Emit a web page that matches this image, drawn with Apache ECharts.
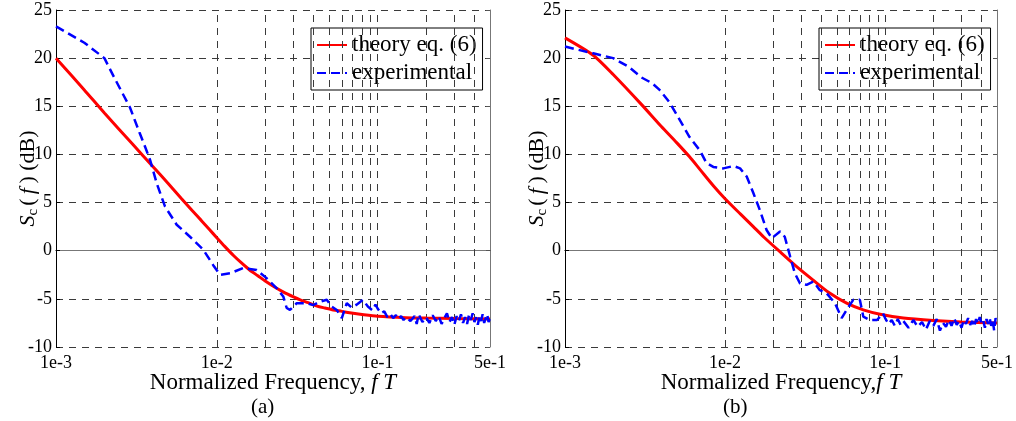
<!DOCTYPE html>
<html><head><meta charset="utf-8">
<script src="https://cdn.jsdelivr.net/npm/echarts@6/dist/echarts.min.js"></script>
<style>html,body{margin:0;padding:0;background:#fff}#c{width:1016px;height:421px}</style>
</head><body><div id="c"></div>
<script>
// ---- data (frequency fT, dB) ----
const theoryA = [[0.001,20.0],[0.0015,16.7],[0.002,14.3],[0.003,11.05],[0.004,8.75],[0.005,6.95],[0.006,5.45],[0.007,4.2],[0.008,3.15],[0.009,2.2],[0.01,1.35],[0.0112,0.45],[0.0127,-0.5],[0.0143,-1.3],[0.016,-2.0],[0.018,-2.6],[0.02,-3.15],[0.023,-3.8],[0.026,-4.3],[0.03,-4.8],[0.033,-5.1],[0.037,-5.4],[0.042,-5.75],[0.047,-5.95],[0.053,-6.15],[0.06,-6.3],[0.067,-6.45],[0.08,-6.62],[0.1,-6.8],[0.15,-6.95],[0.2,-7.0],[0.3,-7.05],[0.5,-7.1]];
const expA = [[0.001,23.3],[0.0015,21.6],[0.002,20.0],[0.0023,18.0],[0.0026,16.3],[0.00288,14.9],[0.0033,12.3],[0.0036,10.7],[0.00385,9.4],[0.00423,7.0],[0.00476,4.6],[0.00563,2.7],[0.00681,1.45],[0.00824,0.1],[0.0095,-1.5],[0.01047,-2.5],[0.01208,-2.35],[0.01462,-1.8],[0.0177,-2.0],[0.0204,-2.85],[0.0236,-3.9],[0.0259,-4.75],[0.0272,-5.95],[0.0285,-6.15],[0.0314,-5.45],[0.0362,-5.45],[0.0398,-5.65],[0.0438,-5.3],[0.0483,-5.1],[0.0519,-5.8],[0.0557,-6.15],[0.0599,-7.0],[0.0643,-5.45],[0.069,-5.9],[0.074,-5.6],[0.081,-5.1],[0.087,-5.8],[0.093,-6.2],[0.097,-5.6],[0.1,-6.0],[0.105,-6.5],[0.11,-6.3],[0.115,-6.9],[0.12,-6.6],[0.125,-7.0],[0.13,-6.7],[0.135,-7.1],[0.14,-6.8],[0.145,-7.2],[0.15,-6.9],[0.16,-7.3],[0.17,-6.8],[0.175,-7.6],[0.18,-6.6],[0.19,-7.4],[0.2,-6.9],[0.21,-7.5],[0.22,-6.7],[0.23,-7.3],[0.24,-6.8],[0.25,-7.6],[0.26,-7.0],[0.27,-6.5],[0.28,-7.4],[0.29,-6.9],[0.3,-7.7],[0.31,-6.8],[0.32,-7.3],[0.33,-6.6],[0.34,-7.5],[0.35,-6.9],[0.36,-7.6],[0.37,-6.7],[0.38,-7.2],[0.39,-6.5],[0.4,-7.4],[0.41,-6.9],[0.42,-7.7],[0.43,-6.8],[0.44,-7.3],[0.45,-6.6],[0.46,-7.5],[0.47,-7.0],[0.48,-6.6],[0.49,-7.4],[0.5,-7.0]];
const theoryB = [[0.001,22.1],[0.0015,20.3],[0.002,18.3],[0.003,15.2],[0.004,12.9],[0.005,11.2],[0.006,9.75],[0.007,8.4],[0.0085,6.7],[0.01,5.4],[0.0125,3.8],[0.015,2.5],[0.0175,1.4],[0.022,-0.1],[0.028,-1.65],[0.0355,-3.05],[0.045,-4.4],[0.0575,-5.45],[0.073,-6.15],[0.093,-6.6],[0.13,-7.0],[0.2,-7.25],[0.3,-7.4],[0.5,-7.5]];
const expB = [[0.001,21.2],[0.0015,20.5],[0.002,20.0],[0.0025,19.1],[0.003,18.0],[0.0035,17.4],[0.0039,16.7],[0.0045,15.4],[0.005,14.1],[0.0055,12.9],[0.006,11.8],[0.00697,10.4],[0.00766,9.1],[0.00844,8.7],[0.00976,8.55],[0.0113,8.8],[0.01241,8.55],[0.01365,7.7],[0.01502,6.0],[0.01651,4.2],[0.01817,2.15],[0.0196,1.3],[0.02204,2.0],[0.0236,1.45],[0.0255,-0.6],[0.0273,-2.35],[0.0294,-3.4],[0.0323,-3.55],[0.0356,-3.2],[0.0391,-4.1],[0.043,-4.4],[0.0486,-5.45],[0.0535,-7.0],[0.0575,-6.15],[0.0632,-5.1],[0.0695,-5.1],[0.0731,-6.85],[0.0805,-7.2],[0.089,-7.2],[0.097,-6.5],[0.1,-7.0],[0.105,-7.6],[0.11,-7.2],[0.115,-7.8],[0.12,-7.1],[0.125,-7.7],[0.13,-7.3],[0.14,-8.0],[0.15,-7.2],[0.16,-7.9],[0.17,-7.4],[0.18,-8.2],[0.19,-7.3],[0.2,-7.8],[0.21,-7.1],[0.22,-8.3],[0.23,-7.5],[0.24,-7.9],[0.25,-7.2],[0.26,-7.8],[0.27,-7.0],[0.28,-7.7],[0.29,-7.3],[0.3,-8.0],[0.31,-7.2],[0.32,-7.6],[0.33,-7.0],[0.34,-7.7],[0.35,-7.3],[0.36,-7.9],[0.37,-7.1],[0.38,-7.6],[0.39,-6.9],[0.4,-7.5],[0.41,-7.2],[0.42,-8.0],[0.43,-7.1],[0.44,-7.6],[0.45,-7.0],[0.46,-7.8],[0.47,-7.2],[0.48,-8.3],[0.49,-7.0],[0.5,-7.6]];
const gridX = [0.002,0.003,0.004,0.005,0.006,0.007,0.008,0.009,0.01,0.02,0.03,0.04,0.05,0.06,0.07,0.08,0.09,0.1,0.2,0.3,0.4];
const seriesNames = ['theory eq. (6)', 'experimental'];
const xTitleA = 'Normalized Frequency, ';
const xTitleB = 'Normalized Frequency,';
const captions = ['(a)', '(b)'];

const FONT = '"Liberation Serif", "Times New Roman", serif';
const gridDash = {type:[7,6], color:'#3a3a3a', width:1};
const grids = [{left:56, top:10, width:434, height:337},{left:565, top:10, width:432, height:337}];

function xAxes(gi, title){
  return [{
    type:'log', logBase:10, min:0.001, max:0.5, gridIndex:gi, position:'bottom',
    axisLine:{show:true, lineStyle:{color:'#000', width:1}},
    axisTick:{show:false}, splitLine:{show:false},
    axisLabel:{fontFamily:FONT, fontSize:18, color:'#000', margin:7,
      formatter:v=>Number(v).toExponential(0)},
    name:'{n|'+title+'}{i|f T}', nameLocation:'middle', nameGap:24, nameMoveOverlap:false,
    nameTextStyle:{rich:{n:{fontFamily:FONT,fontSize:23,color:'#000'},i:{fontFamily:FONT,fontSize:23,fontStyle:'italic',color:'#000'}}}
  },{
    type:'log', logBase:10, min:0.001, max:0.5, gridIndex:gi, position:'top',
    axisLine:{show:true, lineStyle:{color:'#777', width:1}},
    axisTick:{show:false}, axisLabel:{show:false}, splitLine:{show:false}
  }];
}
function yAxes(gi){
  return [{
    type:'value', min:-10, max:25, interval:5, gridIndex:gi, position:'left',
    axisLine:{show:true, lineStyle:{color:'#000', width:1}},
    axisTick:{show:true, inside:true, length:4, lineStyle:{color:'#000'}},
    splitLine:{show:true, lineStyle:gridDash},
    axisLabel:{fontFamily:FONT, fontSize:18, color:'#000', margin:4},
    name:'{i|S}{sub|c}{n|(\u2009}{i|f}{n|\u2009) (dB)}', nameLocation:'middle', nameGap:15, nameRotate:90, nameMoveOverlap:false,
    nameTextStyle:{rich:{
      n:{fontFamily:FONT,fontSize:22,color:'#000',lineHeight:26},
      i:{fontFamily:FONT,fontSize:22,fontStyle:'italic',color:'#000',lineHeight:26},
      sub:{fontFamily:FONT,fontSize:15,color:'#000',verticalAlign:'bottom',lineHeight:26,padding:[0,3,0,0]}}}
  },{
    type:'value', min:-10, max:25, interval:5, gridIndex:gi, position:'right',
    axisLine:{show:true, lineStyle:{color:'#777', width:1}},
    axisTick:{show:true, inside:true, length:4, lineStyle:{color:'#555'}},
    axisLabel:{show:false}, splitLine:{show:false}
  }];
}
const vGrid = {silent:true, symbol:['none','none'], label:{show:false}, lineStyle:gridDash,
  emphasis:{disabled:true}, animation:false, data:gridX.map(v=>({xAxis:v}))};

function pair(xi, yi, th, ex){
  return [{
    name:seriesNames[0], type:'line', xAxisIndex:xi, yAxisIndex:yi, data:th, showSymbol:false, symbol:'none',
    smooth:0.25, z:10, lineStyle:{color:'#ff0000', width:3, type:'solid'}, itemStyle:{color:'#ff0000'},
    markLine:vGrid
  },{
    name:seriesNames[1], type:'line', xAxisIndex:xi, yAxisIndex:yi, data:ex, showSymbol:false, symbol:'none',
    z:11, lineStyle:{color:'#0000ff', width:2.5, type:[9,5]}, itemStyle:{color:'#0000ff'}
  }];
}
function legend(left){
  return {left:left, top:28, orient:'vertical', data:seriesNames, selectedMode:false,
    backgroundColor:'#fff', borderColor:'#000', borderWidth:1, padding:[4,6,4,5],
    itemWidth:30, itemHeight:14, itemGap:2, itemStyle:{opacity:0},
    textStyle:{fontFamily:FONT, fontSize:23, color:'#000', lineHeight:26}};
}
const chart = echarts.init(document.getElementById('c'), null, {renderer:'canvas'});
chart.setOption({
  animation:false, backgroundColor:'#fff',
  textStyle:{fontFamily:FONT},
  grid:grids,
  xAxis:[...xAxes(0, xTitleA), ...xAxes(1, xTitleB)],
  yAxis:[...yAxes(0), ...yAxes(1)],
  legend:[legend(311), legend(819)],
  series:[...pair(0,0,theoryA,expA), ...pair(2,2,theoryB,expB)],
  graphic:[
    {type:'text', left:251, top:397, style:{text:captions[0], font:'21px "Liberation Serif"', fill:'#000'}},
    {type:'text', left:723, top:397, style:{text:captions[1], font:'21px "Liberation Serif"', fill:'#000'}}
  ]
});
</script></body></html>
